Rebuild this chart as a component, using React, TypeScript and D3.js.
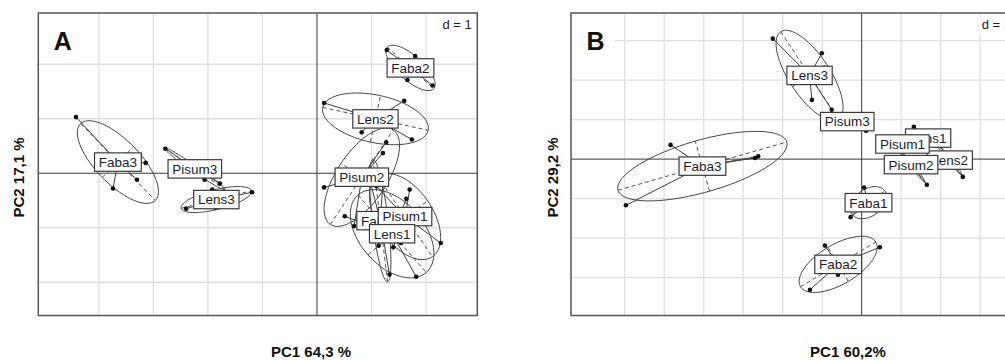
import React, { useRef, useEffect } from 'react';
import * as d3 from 'd3';

// groups (4 replicates each), same order in both PCAs
const groupNames = ["Faba1", "Faba2", "Faba3", "Lens1", "Lens2", "Lens3", "Pisum1", "Pisum2", "Pisum3"];
const sampleGroup = [0,0,0,0, 1,1,1,1, 2,2,2,2, 3,3,3,3, 4,4,4,4, 5,5,5,5, 6,6,6,6, 7,7,7,7, 8,8,8,8];

// panel A scores
const pc1A = [1.13, 1.33, 0.97, 1.21,   1.28, 1.80, 1.66, 2.12,   -4.42, -3.14, -3.30, -3.74,
              0.51, 1.82, 1.54, 1.64,   0.13, 1.60, 0.82, 1.74,   -2.40, -1.92, -1.19, -1.87,
              1.70, 2.27, 1.40, 1.09,   0.13, 0.68, 1.21, 1.27,   -2.78, -2.06, -1.78, -2.34];
const pc2A = [-1.33, -1.86, -0.12, -0.17,  2.26, 2.15, 1.71, 1.61,   1.03, 0.19, -0.12, -0.28,
              -0.79, -1.90, -1.28, -0.47,  1.29, 1.33, 0.75, 0.62,   -0.65, -0.30, -0.35, -0.63,
              -0.30, -1.28, -1.36, -0.24,  -0.26, -0.97, 0.37, 0.57,  0.45, -0.12, -0.19, 0.18];

// panel B scores
const pc1B = [0.06, -0.28, 0.46, 0.45,   -0.93, 0.46, -1.31, -0.60,   -4.84, -5.97, -2.70, -2.62,
              1.32, 1.60, 1.88, 1.93,    2.56, 2.11, 2.03, 2.22,      -2.25, -1.01, -0.76, -1.26,
              0.84, 0.97, 1.15, 1.17,    1.65, 1.10, 1.05, 1.20,      -0.60, 0.11, -0.42, -0.55];
const pc2B = [-0.72, -1.47, -1.03, -1.19,  -2.19, -2.23, -3.31, -2.93,  0.36, -1.17, 0.03, 0.07,
              0.82, 0.59, 0.36, 0.36,      -0.45, 0.11, 0.16, 0.08,     3.05, 2.68, 1.25, 1.50,
              0.49, 0.41, 0.34, 0.29,      -0.65, 0.03, 0.06, 0.00,     1.07, 0.72, 0.99, 1.02];

const xlimA = [-5.11, 2.94];
const ylimA = [-2.61, 2.94];
const xGridA = [-4, -3, -2, -1, 1, 2];
const yGridA = [-2, -1, 1, 2];
const labelOrderA = ["Faba1", "Faba2", "Faba3", "Pisum1", "Lens1", "Lens2", "Lens3", "Pisum2", "Pisum3"];

const xlimB = [-7.36, 3.92];
const ylimB = [-3.96, 3.70];
const xGridB = [-6, -5, -4, -3, -2, -1, 1, 2, 3];
const yGridB = [-3, -2, -1, 1, 2, 3];
const labelOrderB = groupNames;

const cellipse = 1.5;

function groupStats(pc1, pc2, g) {
  const idx = sampleGroup.map((s, i) => (s === g ? i : -1)).filter(i => i >= 0);
  const pts = idx.map(i => [pc1[i], pc2[i]]);
  const mx = d3.mean(pts, p => p[0]);
  const my = d3.mean(pts, p => p[1]);
  const vx = d3.mean(pts, p => (p[0] - mx) ** 2);
  const vy = d3.mean(pts, p => (p[1] - my) ** 2);
  const cv = d3.mean(pts, p => (p[0] - mx) * (p[1] - my));
  const h = (vx + vy) / 2;
  const r = Math.sqrt(((vx - vy) / 2) ** 2 + cv ** 2);
  const l1 = h + r, l2 = Math.max(h - r, 0);
  const th = 0.5 * Math.atan2(2 * cv, vx - vy);
  return { pts, mx, my, a: cellipse * Math.sqrt(l1), b: cellipse * Math.sqrt(l2), th };
}

function drawPanel(svg, p) {
  const top = 13, height = 302.5;
  const x = d3.scaleLinear().domain(p.xlim).range([p.left, p.left + p.width]);
  const y = d3.scaleLinear().domain(p.ylim).range([top + height, top]);
  const g = svg.append("g");

  const clipId = "clip" + p.id;
  g.append("clipPath").attr("id", clipId)
    .append("rect").attr("x", p.left).attr("y", top).attr("width", p.width).attr("height", height);
  const inner = g.append("g").attr("clip-path", `url(#${clipId})`);

  // grid
  inner.selectAll(".gx").data(p.xGrid).enter().append("line")
    .attr("x1", d => x(d)).attr("x2", d => x(d)).attr("y1", top).attr("y2", top + height)
    .attr("stroke", "#e0e0e0").attr("stroke-width", 1.3);
  inner.selectAll(".gy").data(p.yGrid).enter().append("line")
    .attr("y1", d => y(d)).attr("y2", d => y(d)).attr("x1", p.left).attr("x2", p.left + p.width)
    .attr("stroke", "#e0e0e0").attr("stroke-width", 1.3);
  // origin axes
  inner.append("line").attr("x1", x(0)).attr("x2", x(0)).attr("y1", top).attr("y2", top + height)
    .attr("stroke", "#3a3a3a").attr("stroke-width", 1);
  inner.append("line").attr("y1", y(0)).attr("y2", y(0)).attr("x1", p.left).attr("x2", p.left + p.width)
    .attr("stroke", "#3a3a3a").attr("stroke-width", 1);

  // panel tag
  inner.append("rect").attr("x", p.left).attr("y", 26).attr("width", 44).attr("height", 30).attr("fill", "#fff");
  inner.append("text").attr("x", p.left + 15.5).attr("y", 50).text(p.id)
    .attr("font-family", "'Liberation Sans', Arial, sans-serif").attr("font-weight", "bold")
    .attr("font-size", 25).attr("fill", "#111");

  // d = 1
  const dx = p.left + p.width - 5.5;
  inner.append("rect").attr("x", dx - 33).attr("y", 16).attr("width", 36).attr("height", 17).attr("fill", "#fff");
  inner.append("text").attr("x", dx).attr("y", 29).attr("text-anchor", "end").text("d = 1")
    .attr("font-family", "'Liberation Sans', Arial, sans-serif").attr("font-size", 13).attr("fill", "#222");

  const stats = groupNames.map((_, i) => groupStats(p.pc1, p.pc2, i));

  // ellipses, axes, stars
  const ell = d3.line().curve(d3.curveLinearClosed);
  stats.forEach(s => {
    const ring = d3.range(100).map(k => {
      const t = (k / 100) * 2 * Math.PI;
      const ex = s.mx + s.a * Math.cos(t) * Math.cos(s.th) - s.b * Math.sin(t) * Math.sin(s.th);
      const ey = s.my + s.a * Math.cos(t) * Math.sin(s.th) + s.b * Math.sin(t) * Math.cos(s.th);
      return [x(ex), y(ey)];
    });
    inner.append("path").attr("d", ell(ring)).attr("fill", "none")
      .attr("stroke", "#454545").attr("stroke-width", 1);
    const axes = [
      [s.a * Math.cos(s.th), s.a * Math.sin(s.th)],
      [-s.b * Math.sin(s.th), s.b * Math.cos(s.th)],
    ];
    axes.forEach(v => {
      inner.append("line")
        .attr("x1", x(s.mx - v[0])).attr("y1", y(s.my - v[1]))
        .attr("x2", x(s.mx + v[0])).attr("y2", y(s.my + v[1]))
        .attr("stroke", "#555").attr("stroke-width", 1).attr("stroke-dasharray", "4,3");
    });
    s.pts.forEach(pt => {
      inner.append("line")
        .attr("x1", x(s.mx)).attr("y1", y(s.my)).attr("x2", x(pt[0])).attr("y2", y(pt[1]))
        .attr("stroke", "#404040").attr("stroke-width", 1);
    });
  });

  // points
  inner.selectAll(".pt").data(p.pc1.map((v, i) => [v, p.pc2[i]])).enter().append("circle")
    .attr("cx", d => x(d[0])).attr("cy", d => y(d[1])).attr("r", 2.3).attr("fill", "#111");

  // labels
  p.order.forEach(name => {
    const s = stats[groupNames.indexOf(name)];
    const lg = inner.append("g");
    const rect = lg.append("rect");
    const t = lg.append("text").attr("x", x(s.mx)).attr("y", y(s.my)).attr("dy", "0.36em")
      .attr("text-anchor", "middle").text(name)
      .attr("font-family", "'Liberation Sans', Arial, sans-serif").attr("font-size", 13.5).attr("fill", "#1c1c2a");
    const w = t.node().getComputedTextLength() + 8.5;
    rect.attr("x", x(s.mx) - w / 2).attr("y", y(s.my) - 9.2).attr("width", w).attr("height", 18.4)
      .attr("fill", "#fff").attr("stroke", "#3a3a3a").attr("stroke-width", 1.2);
  });

  // frame
  g.append("rect").attr("x", p.left).attr("y", top).attr("width", p.width).attr("height", height)
    .attr("fill", "none").attr("stroke", "#555").attr("stroke-width", 1.5);

  // axis titles
  g.append("text").attr("x", p.xTitleX).attr("y", 357).attr("text-anchor", "middle").text(p.xTitle)
    .attr("font-family", "'Liberation Sans', Arial, sans-serif").attr("font-weight", "bold")
    .attr("font-size", 15).attr("fill", "#111");
  g.append("text").attr("transform", `translate(${p.yTitleX},177.5) rotate(-90)`)
    .attr("text-anchor", "middle").text(p.yTitle)
    .attr("font-family", "'Liberation Sans', Arial, sans-serif").attr("font-weight", "bold")
    .attr("font-size", 15).attr("fill", "#111");
}

export default function App() {
  const ref = useRef(null);

  useEffect(() => {
    if (!ref.current) return;
    const svg = d3.select(ref.current);
    svg.selectAll("*").remove();
    drawPanel(svg, {
      id: "A", left: 38.3, width: 439, xlim: xlimA, ylim: ylimA, xGrid: xGridA, yGrid: yGridA,
      pc1: pc1A, pc2: pc2A, order: labelOrderA,
      xTitle: "PC1 64,3 %", yTitle: "PC2 17,1 %", xTitleX: 311, yTitleX: 24,
    });
    drawPanel(svg, {
      id: "B", left: 571, width: 445.5, xlim: xlimB, ylim: ylimB, xGrid: xGridB, yGrid: yGridB,
      pc1: pc1B, pc2: pc2B, order: labelOrderB,
      xTitle: "PC1 60,2%", yTitle: "PC2 29,2 %", xTitleX: 848, yTitleX: 558,
    });
  }, []);

  return (
    <svg
      ref={ref}
      width={1005}
      height={360}
      style={{ position: 'absolute', left: 0, top: 0, background: '#fff' }}
    />
  );
}
